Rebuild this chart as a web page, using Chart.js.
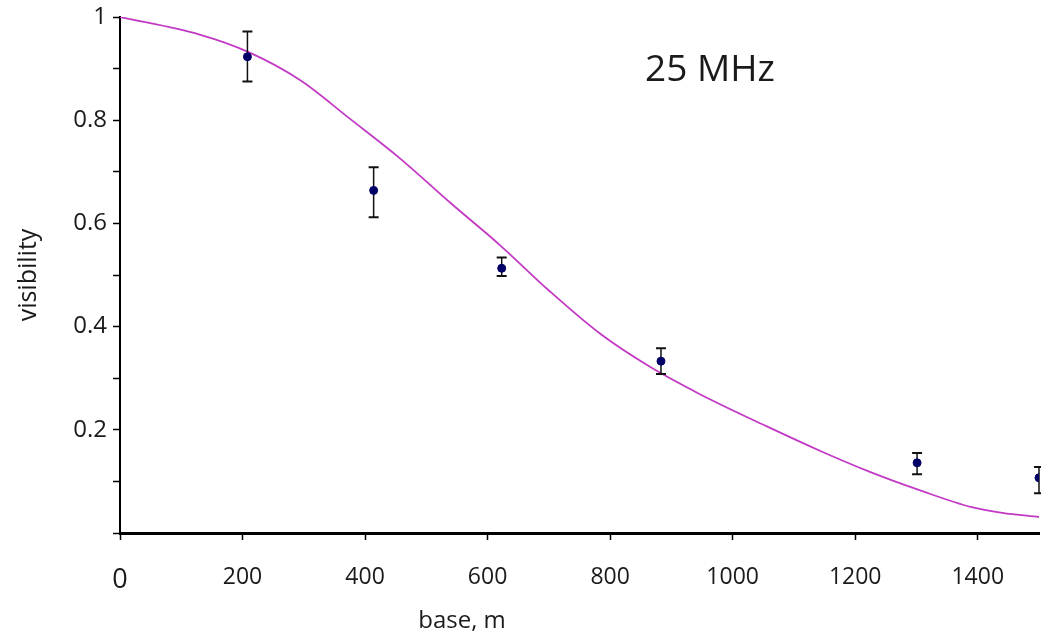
<!DOCTYPE html>
<html>
<head>
<meta charset="utf-8">
<script src="https://cdn.jsdelivr.net/npm/chart.js@4/dist/chart.umd.min.js"></script>
<style>
  body { margin: 0; background: #fff; }
  #wrap { width: 1041px; height: 641px; }
</style>
</head>
<body>
<div id="wrap"><canvas id="vis" width="1041" height="641"></canvas></div>
<script>
// measured visibility at each base
const baseM = [208, 414, 623, 883, 1301, 1500];
const visibility = [0.923, 0.664, 0.513, 0.333, 0.136, 0.107];
const errLow = [0.875, 0.612, 0.498, 0.308, 0.114, 0.077];
const errHigh = [0.972, 0.709, 0.534, 0.358, 0.155, 0.128];

// model curve
const curveX = [0, 130, 210, 295, 375, 455, 540, 620, 700, 785, 865, 945, 1055, 1145, 1225, 1305, 1390, 1440, 1500];
const curveY = [1.0, 0.966, 0.932, 0.877, 0.803, 0.728, 0.639, 0.558, 0.47, 0.385, 0.322, 0.27, 0.207, 0.158, 0.118, 0.083, 0.05, 0.039, 0.031];

const xTicks = [0, 200, 400, 600, 800, 1000, 1200, 1400];
const yTicks = [0, 0.1, 0.2, 0.3, 0.4, 0.5, 0.6, 0.7, 0.8, 0.9, 1];
const yLabels = { 0.2: '0.2', 0.4: '0.4', 0.6: '0.6', 0.8: '0.8', 1: '1' };

Chart.defaults.font.family = "'Open Sans', sans-serif";
Chart.defaults.color = '#1a1a1a';

const errorBars = {
    id: 'errorBars',
    beforeDatasetDraw(chart, args) {
        if (args.index !== 1) return;
        const ctx = chart.ctx, x = chart.scales.x, y = chart.scales.y;
        ctx.save();
        ctx.strokeStyle = '#111';
        baseM.forEach((b, i) => {
            const px = x.getPixelForValue(b);
            const top = y.getPixelForValue(errHigh[i]);
            const bot = y.getPixelForValue(errLow[i]);
            ctx.lineWidth = 1.5;
            ctx.beginPath();
            ctx.moveTo(px, top); ctx.lineTo(px, bot);
            ctx.stroke();
            ctx.lineWidth = 2;
            ctx.beginPath();
            ctx.moveTo(px - 5, top); ctx.lineTo(px + 5, top);
            ctx.moveTo(px - 5, bot); ctx.lineTo(px + 5, bot);
            ctx.stroke();
        });
        ctx.restore();
    }
};

const labelsPlugin = {
    id: 'labelsPlugin',
    afterDraw(chart) {
        const ctx = chart.ctx;
        ctx.save();
        ctx.fillStyle = '#1a1a1a';
        ctx.textAlign = 'center';
        ctx.textBaseline = 'middle';
        ctx.font = "37px 'Open Sans'";
        ctx.fillText('25 MHz', 710, 70);
        ctx.font = "24px 'Open Sans'";
        ctx.fillText('base, m', 462, 621);
        ctx.restore();
    }
};

new Chart(document.getElementById('vis'), {
    type: 'scatter',
    data: {
        datasets: [
            {
                type: 'line',
                data: curveX.map((v, i) => ({ x: v, y: curveY[i] })),
                borderColor: '#c23ac4',
                borderWidth: 1.8,
                pointRadius: 0,
                fill: false,
                cubicInterpolationMode: 'monotone',
                order: 2
            },
            {
                data: baseM.map((v, i) => ({ x: v, y: visibility[i] })),
                backgroundColor: '#000066',
                borderColor: '#000066',
                pointRadius: 4,
                order: 1
            }
        ]
    },
    options: {
        responsive: false,
        animation: false,
        layout: { autoPadding: false, padding: { top: 17, right: 2, left: 0, bottom: 0 } },
        plugins: { legend: { display: false }, tooltip: { enabled: false } },
        scales: {
            x: {
                type: 'linear',
                min: 0,
                max: 1500,
                afterBuildTicks: s => { s.ticks = xTicks.map(v => ({ value: v })); },
                afterFit: s => { s.height = 108; s.paddingLeft = 0; s.paddingRight = 0; },
                border: { color: '#000', width: 3 },
                grid: { drawOnChartArea: false, tickLength: 7, tickColor: '#000', tickWidth: 1.5 },
                ticks: {
                    padding: 24,
                    maxRotation: 0,
                    color: '#1a1a1a',
                    font: c => (c.tick && c.tick.value === 0) ? { size: 27 } : { size: 23 },
                    callback: v => String(v)
                }
            },
            y: {
                min: 0,
                max: 1,
                afterBuildTicks: s => { s.ticks = yTicks.map(v => ({ value: v })); },
                afterFit: s => { s.width = 120; s.paddingTop = 0; s.paddingBottom = 0; },
                border: { color: '#000', width: 2 },
                grid: { drawOnChartArea: false, tickLength: 7, tickColor: '#000', tickWidth: 1.5 },
                ticks: {
                    padding: 6,
                    color: '#1a1a1a',
                    font: { size: 24 },
                    callback: v => yLabels[Math.round(v * 10) / 10] || ''
                },
                title: {
                    display: true,
                    text: 'visibility',
                    color: '#1a1a1a',
                    font: { size: 25 },
                    padding: { top: 14, bottom: 0 }
                }
            }
        }
    },
    plugins: [errorBars, labelsPlugin]
});
</script>
</body>
</html>
